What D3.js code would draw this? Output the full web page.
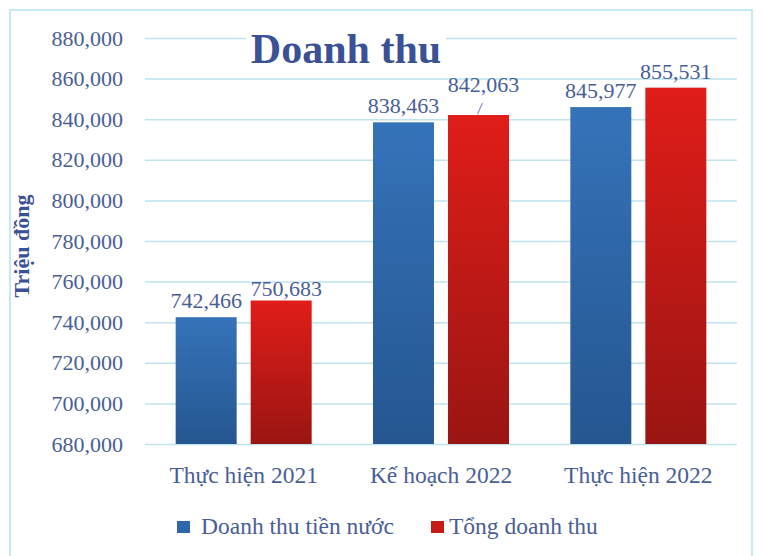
<!DOCTYPE html>
<html>
<head>
<meta charset="utf-8">
<script src="https://cdn.jsdelivr.net/npm/d3@7"></script>
<style>
  body { margin: 0; background: #fff; }
  svg { display: block; font-family: "Liberation Serif", "Times New Roman", serif; }
</style>
</head>
<body>
<svg id="chart" width="762" height="556"></svg>
<script>
// data
var categories = ["Thực hiện 2021", "Kế hoạch 2022", "Thực hiện 2022"];
var seriesNames = ["Doanh thu tiền nước", "Tổng doanh thu"];
var tienNuoc = [742466, 838463, 845977];
var tongDoanhThu = [750683, 842063, 855531];
var yTicks = [680000, 700000, 720000, 740000, 760000, 780000, 800000, 820000, 840000, 860000, 880000];

var svg = d3.select("#chart"),
    margin = {top: 38, right: 25, bottom: 112, left: 145},
    width = +svg.attr("width") - margin.left - margin.right,
    height = +svg.attr("height") - margin.top - margin.bottom;

var textColor = "#4a5e96";
var serif = "'Liberation Serif', 'Times New Roman', serif";

// gradients for the bars
var defs = svg.append("defs");
var grads = [
    {id: "gBlue", top: "#3573b9", bottom: "#255690"},
    {id: "gRed", top: "#e01d19", bottom: "#9a1512"}
];
grads.forEach(function(d) {
    var lg = defs.append("linearGradient").attr("id", d.id)
        .attr("x1", 0).attr("y1", 0).attr("x2", 0).attr("y2", 1);
    lg.append("stop").attr("offset", "0%").attr("stop-color", d.top);
    lg.append("stop").attr("offset", "100%").attr("stop-color", d.bottom);
});

// outer frame
svg.append("rect")
    .attr("x", 10).attr("y", 10)
    .attr("width", 742).attr("height", 560)
    .attr("fill", "none")
    .attr("stroke", "#c6e9f2")
    .attr("stroke-width", 2);

var g = svg.append("g").attr("transform", "translate(" + margin.left + "," + margin.top + ")");

var x0 = d3.scaleBand().domain(categories).range([0, width]).padding(0);
var x1 = d3.scaleBand().domain(seriesNames)
    .range([x0.bandwidth() / 2 - 68, x0.bandwidth() / 2 + 68])
    .paddingInner(0.187).paddingOuter(0);
var y = d3.scaleLinear().domain([680000, 880000]).range([height, 0]);
var colour = d3.scaleOrdinal().domain(seriesNames).range(["url(#gBlue)", "url(#gRed)"]);
var legendColour = d3.scaleOrdinal().domain(seriesNames).range(["#2f67ab", "#c81b17"]);

// y axis with gridlines
var yAxis = g.append("g")
    .attr("class", "axis axis--y")
    .call(d3.axisLeft(y).tickValues(yTicks).tickFormat(d3.format(",")).tickSize(-width).tickPadding(22))
    .attr("font-family", serif)
    .attr("font-size", 22);
yAxis.select(".domain").remove();
yAxis.selectAll("line").attr("stroke", "#bfe4ef").attr("stroke-width", 1.5);
yAxis.selectAll("text").attr("fill", textColor);

// title (white box hides the top gridline)
svg.append("rect")
    .attr("x", 246).attr("y", 24)
    .attr("width", 200).attr("height", 46)
    .attr("fill", "#fff");
svg.append("text")
    .attr("x", 346).attr("y", 63)
    .attr("text-anchor", "middle")
    .attr("fill", "#3a5196")
    .style("font-size", "42px")
    .style("font-weight", "bold")
    .text("Doanh thu");

// y axis title
svg.append("text")
    .attr("transform", "translate(29,246) rotate(-90)")
    .attr("text-anchor", "middle")
    .attr("fill", "#3a5196")
    .style("font-size", "22px")
    .style("font-weight", "bold")
    .text("Triệu đồng");

// bars
var rows = categories.map(function(c, i) {
    return {cat: c, values: [
        {key: seriesNames[0], value: tienNuoc[i]},
        {key: seriesNames[1], value: tongDoanhThu[i]}
    ]};
});

// label nudges where the labels were moved by hand in the original
var nudge = {
    "Thực hiện 2021|Tổng doanh thu": {dx: 5, dy: 4},
    "Kế hoạch 2022|Tổng doanh thu": {dx: 5, dy: -14, leader: true}
};

var groups = g.selectAll(".grp")
    .data(rows)
    .enter().append("g")
    .attr("class", "grp")
    .attr("transform", function(d) { return "translate(" + x0(d.cat) + ",0)"; });

groups.selectAll("rect")
    .data(function(d) { return d.values; })
    .enter().append("rect")
    .attr("x", function(d) { return x1(d.key); })
    .attr("y", function(d) { return y(d.value); })
    .attr("width", x1.bandwidth())
    .attr("height", function(d) { return height - y(d.value); })
    .attr("fill", function(d) { return colour(d.key); });

groups.each(function(r) {
    var grp = d3.select(this);
    r.values.forEach(function(d) {
        var n = nudge[r.cat + "|" + d.key] || {dx: 0, dy: 0};
        var cx = x1(d.key) + x1.bandwidth() / 2;
        var ty = y(d.value) - 9 + n.dy;
        grp.append("text")
            .attr("x", cx + n.dx)
            .attr("y", ty)
            .attr("text-anchor", "middle")
            .attr("fill", textColor)
            .style("font-size", "22px")
            .text(d3.format(",")(d.value));
        if (n.leader) {
            grp.append("line")
                .attr("x1", cx + 4).attr("y1", ty + 11)
                .attr("x2", cx - 1).attr("y2", y(d.value) - 1)
                .attr("stroke", "#8a98c0")
                .attr("stroke-width", 1.2);
        }
    });
});

// x axis labels
var xAxis = g.append("g")
    .attr("class", "axis axis--x")
    .attr("transform", "translate(0," + height + ")")
    .call(d3.axisBottom(x0).tickSize(0).tickPadding(22))
    .attr("font-family", serif)
    .attr("font-size", 23.5);
xAxis.select(".domain").remove();
xAxis.selectAll("text").attr("fill", textColor);

// legend
var legendX = [177, 431];
var legend = svg.selectAll(".legend")
    .data(seriesNames)
    .enter().append("g")
    .attr("class", "legend")
    .attr("transform", function(d, i) { return "translate(" + legendX[i] + ",521)"; });

legend.append("rect")
    .attr("width", 13)
    .attr("height", 12)
    .attr("fill", legendColour);

legend.append("text")
    .attr("x", function(d, i) { return i === 0 ? 24 : 18; })
    .attr("y", 13)
    .attr("fill", textColor)
    .style("font-size", "23.5px")
    .text(function(d) { return d; });
</script>
</body>
</html>
